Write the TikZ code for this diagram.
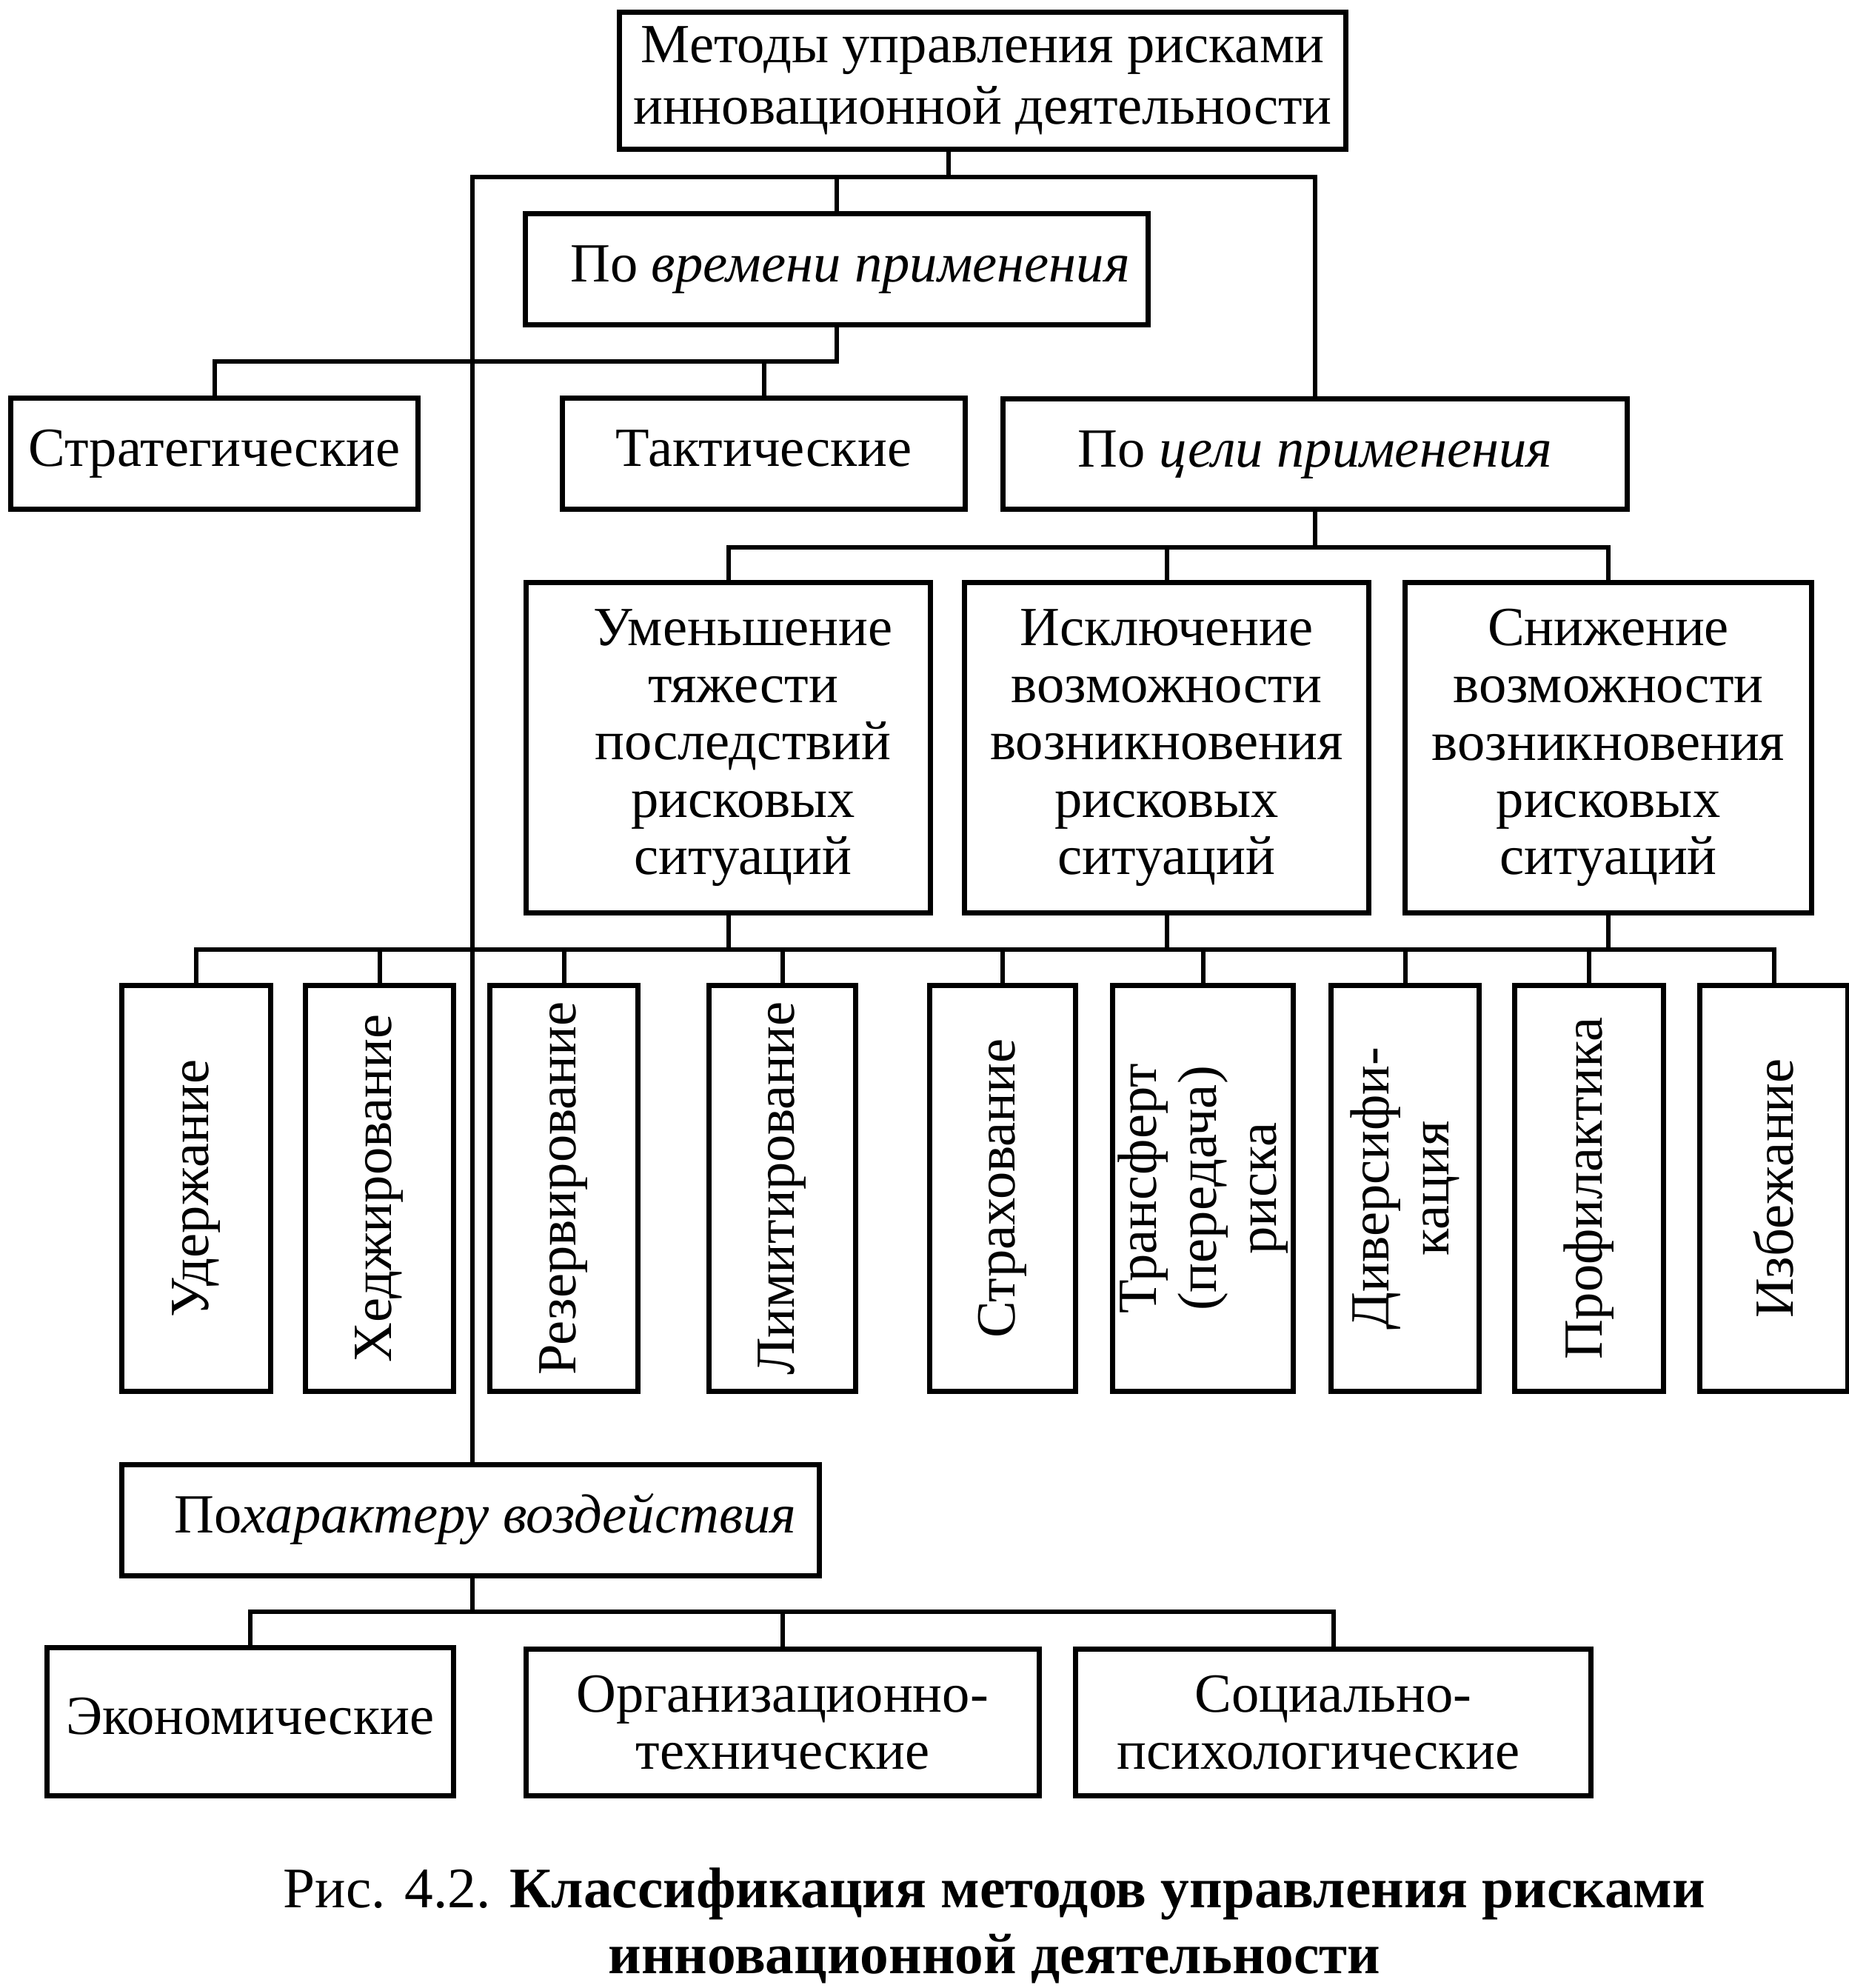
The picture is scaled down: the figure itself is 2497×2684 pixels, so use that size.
\documentclass[tikz,border=0pt]{standalone}
\usepackage{fontspec}
\setmainfont{Liberation Serif}
\begin{document}
\begin{tikzpicture}[x=0.01cm,y=-0.01cm,
  bx/.style={draw, line width=0.07cm, inner sep=0pt, align=center, font=\fontsize{21.2}{22}\selectfont},
  one/.style={text height=0.5cm, text depth=0.16cm},
  ln/.style={line width=0.06cm, line cap=rect},
  vt/.style={bx, minimum width=2cm, minimum height=5.47cm},
  vl/.style={rotate=90, align=center, inner sep=0pt, font=\fontsize{21.2}{23}\selectfont},
  capf/.style={anchor=base, inner sep=0pt, font=\fontsize{22}{26}\selectfont}]
\useasboundingbox (0,0) rectangle (2497,2684);

% level 0
\node[bx, minimum width=9.8cm, minimum height=1.84cm, font=\fontsize{21.2}{23.5}\selectfont] (top) at (1327,109)
  {Методы управления рисками\\инновационной деятельности};

% level 1
\node[bx, one, minimum width=8.4cm, minimum height=1.49cm] (vrem) at (1130,363.5)
  {\hspace*{0.36cm}По \textit{времени применения}};
\node[bx, one, minimum width=5.49cm, minimum height=1.49cm] (strat) at (289.5,612.5) {Стратегические};
\node[bx, one, minimum width=5.43cm, minimum height=1.49cm] (takt) at (1031.5,612.5) {Тактические};
\node[bx, one, minimum width=8.42cm, minimum height=1.48cm] (celi) at (1776,613) {По \textit{цели применения}};

% level 2
\node[bx, minimum width=5.45cm, minimum height=4.45cm] (umen) at (983.5,1009.5)
  {\hspace*{0.4cm}Уменьшение\\\hspace*{0.4cm}тяжести\\\hspace*{0.4cm}последствий\\\hspace*{0.4cm}рисковых\\\hspace*{0.4cm}ситуаций};
\node[bx, minimum width=5.45cm, minimum height=4.45cm] (iskl) at (1575.5,1009.5)
  {Исключение\\возможности\\возникновения\\рисковых\\ситуаций};
\node[bx, minimum width=5.48cm, minimum height=4.45cm] (sniz) at (2172,1009.5)
  {Снижение\\возможности\\возникновения\\рисковых\\ситуаций};

% level 3 (vertical texts)
\node[vt, label={[vl]center:Удержание}] (uder) at (265,1604.5) {};
\node[vt, label={[vl]center:Хеджирование}] (hedg) at (512.5,1604.5) {};
\node[vt, minimum width=1.99cm, label={[vl]center:Резервирование}] (rez) at (761.5,1604.5) {};
\node[vt, minimum width=1.97cm, label={[vl]center:Лимитирование}] (lim) at (1056.5,1604.5) {};
\node[vt, minimum width=1.96cm, label={[vl]center:Страхование}] (str) at (1354,1604.5) {};
\node[vt, minimum width=2.43cm, label={[vl]center:Трансферт\\(передача)\\риска}] (tr) at (1624.5,1604.5) {};
\node[vt, minimum width=1.99cm, label={[vl]center:Диверсифи-\\кация}] (div) at (1897.5,1604.5) {};
\node[vt, label={[vl]center:Профилактика}] (pro) at (2146,1604.5) {};
\node[vt, minimum width=1.99cm, label={[vl]center:Избежание}] (izb) at (2395.5,1604.5) {};

% by character
\node[bx, one, minimum width=9.41cm, minimum height=1.49cm] (har) at (635.5,2052.5)
  {\hspace*{0.4cm}По\textit{характеру воздействия}};
\node[bx, one, minimum width=5.48cm, minimum height=1.99cm] (econ) at (338,2324.5) {Экономические};
\node[bx, minimum width=6.92cm, minimum height=1.97cm] (org) at (1057,2325.5) {Организационно-\\технические};
\node[bx, minimum width=6.95cm, minimum height=1.97cm] (soc) at (1800.5,2325.5) {Социально-\\психологические\hspace*{0.4cm}};

% caption
\node[capf] (cap1) at (1343,2575) {Рис. 4.2. \textbf{Классификация методов управления рисками}};
\node[capf] (cap2) at (1343,2664) {\textbf{инновационной деятельности}};

% connectors
\coordinate (b1) at (1281,239);
\coordinate (b1l) at (638,239);
\coordinate (b2) at (0,488);
\coordinate (b3) at (0,739);
\coordinate (b4) at (0,1282);
\coordinate (b5) at (0,2176);

\draw[ln] (top.south -| b1) -- (b1);
\draw[ln] (celi.north) -- (celi.north |- b1) -- (b1l) -- (b1l |- har.north);
\draw[ln] (vrem.north |- b1) -- (vrem.north);

\draw[ln] (vrem.south) -- (vrem.south |- b2) -- (strat.north |- b2) -- (strat.north);
\draw[ln] (takt.north |- b2) -- (takt.north);

\draw[ln] (celi.south) -- (celi.south |- b3);
\draw[ln] (umen.north) -- (umen.north |- b3) -- (sniz.north |- b3) -- (sniz.north);
\draw[ln] (iskl.north |- b3) -- (iskl.north);

\draw[ln] (umen.south) -- (umen.south |- b4);
\draw[ln] (iskl.south) -- (iskl.south |- b4);
\draw[ln] (sniz.south) -- (sniz.south |- b4);
\draw[ln] (uder.north) -- (uder.north |- b4) -- (izb.north |- b4) -- (izb.north);
\foreach \n in {hedg,rez,lim,str,tr,div,pro}
  \draw[ln] (\n.north |- b4) -- (\n.north);

\draw[ln] (b1l |- har.south) -- (b1l |- b5);
\draw[ln] (econ.north) -- (econ.north |- b5) -- (soc.north |- b5) -- (soc.north);
\draw[ln] (org.north |- b5) -- (org.north);
\end{tikzpicture}
\end{document}
